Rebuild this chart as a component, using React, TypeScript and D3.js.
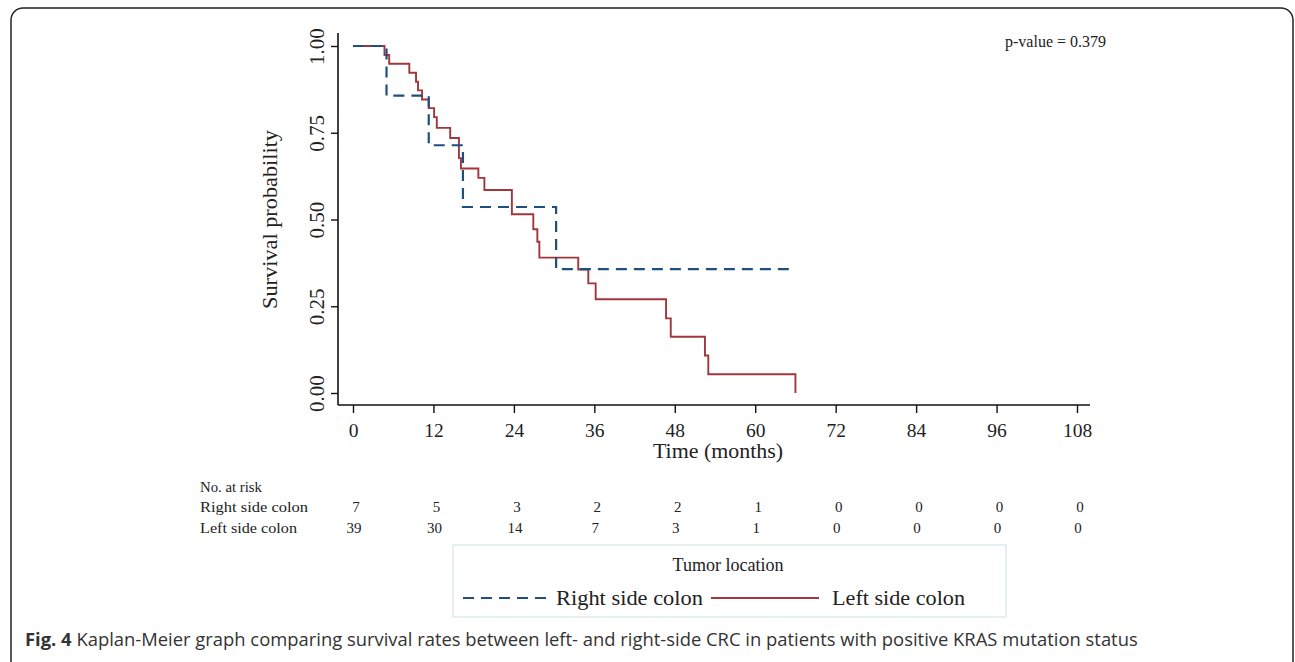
import React, { useEffect, useRef } from 'react';
import * as d3 from 'd3';

// Kaplan-Meier step points (time in months, survival probability)
const rightTimes = [0, 5, 11.3, 16.4, 30.3, 65.2];
const rightSurv = [1, 0.857, 0.714, 0.536, 0.357, 0.357];

const leftTimes = [0, 4.7, 5.4, 8.4, 9.4, 9.7, 10.3, 11.3, 12.1, 12.5, 14.5, 15.8, 16.1, 18.7, 19.6, 23.7, 26.9, 27.5, 27.8, 33.6, 35.1, 36.2, 46.7, 47.4, 52.5, 53.0, 66.0, 66.0];
const leftSurv = [1, 0.974, 0.949, 0.923, 0.897, 0.872, 0.846, 0.821, 0.795, 0.764, 0.735, 0.677, 0.647, 0.62, 0.585, 0.515, 0.472, 0.436, 0.39, 0.356, 0.316, 0.27, 0.215, 0.162, 0.108, 0.054, 0.0, 0.0];

const xTicks = [0, 12, 24, 36, 48, 60, 72, 84, 96, 108];
const yTicks = [0, 0.25, 0.5, 0.75, 1];

const riskRight = [7, 5, 3, 2, 2, 1, 0, 0, 0, 0];
const riskLeft = [39, 30, 14, 7, 3, 1, 0, 0, 0, 0];

const BLUE = '#1f4f7c';
const RED = '#a1363c';
const SERIF = '"Liberation Serif", "Times New Roman", serif';

export default function App() {
  const ref = useRef<SVGSVGElement>(null);

  useEffect(() => {
    const svg = d3.select(ref.current);
    svg.selectAll('*').remove();

    // outer rounded frame
    svg.append('rect')
      .attr('x', 11).attr('y', 8)
      .attr('width', 1282).attr('height', 680)
      .attr('rx', 12)
      .attr('fill', '#fff')
      .attr('stroke', '#222')
      .attr('stroke-width', 1.5);

    const x = d3.scaleLinear().domain([0, 108]).range([353, 1077]);
    const y = d3.scaleLinear().domain([0, 1]).range([393, 46]);

    const axisX0 = 338, axisY0 = 405;

    // axis lines
    svg.append('line')
      .attr('x1', axisX0).attr('x2', axisX0)
      .attr('y1', 33).attr('y2', axisY0)
      .attr('stroke', '#111').attr('stroke-width', 1.6);
    svg.append('line')
      .attr('x1', axisX0).attr('x2', 1090)
      .attr('y1', axisY0).attr('y2', axisY0)
      .attr('stroke', '#111').attr('stroke-width', 1.6);

    // x axis
    const gx = svg.append('g')
      .attr('transform', `translate(0,${axisY0})`)
      .call(d3.axisBottom(x).tickValues(xTicks).tickSize(8).tickPadding(10).tickFormat(d3.format('d')));
    gx.select('.domain').remove();
    gx.selectAll('line').attr('stroke', '#111').attr('stroke-width', 1.4);
    gx.selectAll('text')
      .attr('font-family', SERIF).attr('font-size', 19.5).attr('fill', '#222');

    // y axis
    const gy = svg.append('g')
      .attr('transform', `translate(${axisX0},0)`)
      .call(d3.axisLeft(y).tickValues(yTicks).tickSize(7).tickFormat(d3.format('.2f')));
    gy.select('.domain').remove();
    gy.selectAll('line').attr('stroke', '#111').attr('stroke-width', 1.4);
    gy.selectAll('text')
      .attr('font-family', SERIF).attr('font-size', 21).attr('fill', '#222')
      .attr('text-anchor', 'middle').attr('dy', null)
      .attr('x', null)
      .attr('transform', 'translate(-14,0) rotate(-90)')
      .attr('y', 0);

    svg.append('text')
      .attr('transform', `translate(277,${y(0.5)}) rotate(-90)`)
      .attr('text-anchor', 'middle')
      .attr('font-family', SERIF).attr('font-size', 22).attr('fill', '#222')
      .attr('textLength', 179).attr('lengthAdjust', 'spacingAndGlyphs')
      .text('Survival probability');

    svg.append('text')
      .attr('x', 718).attr('y', 458)
      .attr('text-anchor', 'middle')
      .attr('font-family', SERIF).attr('font-size', 21.5).attr('fill', '#222')
      .attr('textLength', 130).attr('lengthAdjust', 'spacingAndGlyphs')
      .text('Time (months)');

    svg.append('text')
      .attr('x', 1106).attr('y', 47)
      .attr('text-anchor', 'end')
      .attr('font-family', SERIF).attr('font-size', 16.5).attr('fill', '#222')
      .attr('textLength', 101).attr('lengthAdjust', 'spacingAndGlyphs')
      .text('p-value = 0.379');

    // curves
    const line = d3.line<[number, number]>()
      .x(d => x(d[0]))
      .y(d => y(d[1]))
      .curve(d3.curveStepAfter);

    const rightPts = rightTimes.map((t, i) => [t, rightSurv[i]] as [number, number]);
    const leftPts = leftTimes.map((t, i) => [t, leftSurv[i]] as [number, number]);

    svg.append('path')
      .attr('d', line(leftPts))
      .attr('fill', 'none')
      .attr('stroke', RED)
      .attr('stroke-width', 1.9);

    svg.append('path')
      .attr('d', line(rightPts))
      .attr('fill', 'none')
      .attr('stroke', BLUE)
      .attr('stroke-width', 2.2)
      .attr('stroke-dasharray', '11,7');

    // number at risk table
    const tbl = svg.append('g')
      .attr('font-family', SERIF).attr('font-size', 15).attr('fill', '#222');
    tbl.append('text').attr('x', 200).attr('y', 492)
      .attr('textLength', 62).attr('lengthAdjust', 'spacingAndGlyphs').text('No. at risk');
    tbl.append('text').attr('x', 200).attr('y', 512)
      .attr('textLength', 108).attr('lengthAdjust', 'spacingAndGlyphs').text('Right side colon');
    tbl.append('text').attr('x', 200).attr('y', 533)
      .attr('textLength', 97).attr('lengthAdjust', 'spacingAndGlyphs').text('Left side colon');
    tbl.selectAll('.rr').data(riskRight).enter().append('text')
      .attr('x', (_d, i) => x(xTicks[i]) + 3).attr('y', 512)
      .attr('text-anchor', 'middle').text(d => d);
    tbl.selectAll('.rl').data(riskLeft).enter().append('text')
      .attr('x', (_d, i) => x(xTicks[i]) + 1).attr('y', 533)
      .attr('text-anchor', 'middle').text(d => d);

    // legend
    const lg = svg.append('g')
      .attr('font-family', SERIF).attr('font-size', 21).attr('fill', '#222');
    lg.append('rect')
      .attr('x', 453).attr('y', 545).attr('width', 553).attr('height', 72)
      .attr('fill', '#fff').attr('stroke', '#d6e6e8').attr('stroke-width', 1.2);
    lg.append('text')
      .attr('x', 728).attr('y', 571).attr('text-anchor', 'middle')
      .attr('font-size', 19.5)
      .attr('textLength', 111).attr('lengthAdjust', 'spacingAndGlyphs')
      .text('Tumor location');
    lg.append('line')
      .attr('x1', 463).attr('x2', 549).attr('y1', 598).attr('y2', 598)
      .attr('stroke', BLUE).attr('stroke-width', 2).attr('stroke-dasharray', '11,7');
    lg.append('text')
      .attr('x', 556).attr('y', 605)
      .attr('textLength', 147).attr('lengthAdjust', 'spacingAndGlyphs')
      .text('Right side colon');
    lg.append('line')
      .attr('x1', 711).attr('x2', 819).attr('y1', 598).attr('y2', 598)
      .attr('stroke', RED).attr('stroke-width', 2);
    lg.append('text')
      .attr('x', 832).attr('y', 605)
      .attr('textLength', 133).attr('lengthAdjust', 'spacingAndGlyphs')
      .text('Left side colon');

    // caption
    const cap = svg.append('text')
      .attr('x', 25).attr('y', 646)
      .attr('font-family', '"Open Sans", "Noto Sans", sans-serif')
      .attr('font-size', 18.4).attr('fill', '#333');
    cap.append('tspan').attr('font-weight', 'bold').text('Fig. 4');
    cap.append('tspan').text(' Kaplan-Meier graph comparing survival rates between left- and right-side CRC in patients with positive KRAS mutation status');
  }, []);

  return (
    <svg
      ref={ref}
      width={1295}
      height={662}
      style={{ position: 'absolute', left: 0, top: 0, background: '#fff' }}
    />
  );
}
